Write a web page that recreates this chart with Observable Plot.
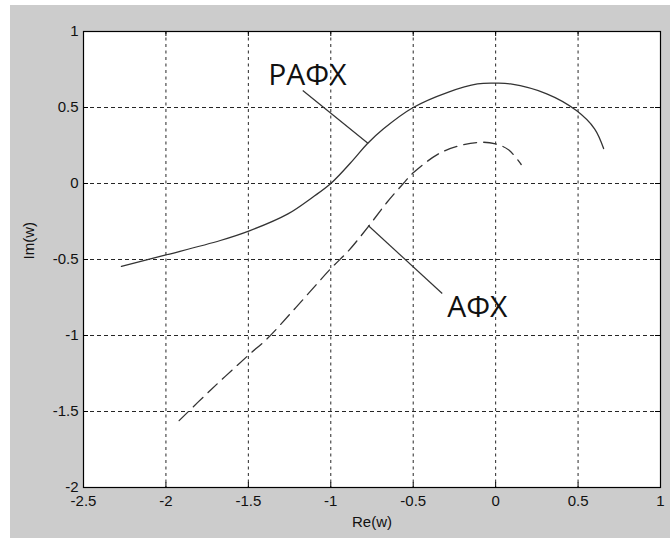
<!DOCTYPE html>
<html>
<head>
<meta charset="utf-8">
<script src="https://cdn.jsdelivr.net/npm/d3@7"></script>
<script src="https://cdn.jsdelivr.net/npm/@observablehq/plot@0.6"></script>
<style>
  html, body { margin: 0; padding: 0; background: #ffffff; }
  #chart { position: absolute; left: 10px; top: 5px; }
  #chart svg { display: block; background: #cccccc; }
</style>
</head>
<body>
<div id="chart"></div>
<script>
// Frequency response on the complex plane: Re(w) vs Im(w)

// РАФХ (solid curve)
const rafhRe = [-2.27, -2.0, -1.67, -1.49, -1.26, -1.11, -1.0, -0.86, -0.78, -0.68, -0.5, -0.29, -0.11, 0.0, 0.09, 0.31, 0.49, 0.6, 0.655];
const rafhIm = [-0.545, -0.47, -0.375, -0.31, -0.2, -0.09, 0.0, 0.16, 0.26, 0.36, 0.5, 0.6, 0.655, 0.66, 0.655, 0.59, 0.48, 0.36, 0.23];

// АФХ (dashed curve)
const afhRe = [-1.92, -1.73, -1.5, -1.385, -1.215, -1.0, -0.89, -0.77, -0.66, -0.56, -0.5, -0.32, -0.11, 0.0, 0.08, 0.155];
const afhIm = [-1.56, -1.36, -1.13, -1.02, -0.82, -0.56, -0.44, -0.28, -0.125, 0.0, 0.07, 0.21, 0.27, 0.26, 0.22, 0.125];

// Axis ticks
const xTicks = [-2.5, -2, -1.5, -1, -0.5, 0, 0.5, 1];
const yTicks = [-2, -1.5, -1, -0.5, 0, 0.5, 1];
const xGrid = [-2, -1.5, -1, -0.5, 0, 0.5];
const yGrid = [-1.5, -1, -0.5, 0, 0.5];

// Callout labels and their leader lines
const calloutText = ["РАФХ", "АФХ"];
const calloutRe = [-1.379, -0.294];
const calloutIm = [0.71, -0.816];
const leaderFromRe = [-1.17, -0.773];
const leaderFromIm = [0.612, -0.276];
const leaderToRe = [-0.773, -0.324];
const leaderToIm = [0.263, -0.724];

const rafh = rafhRe.map((re, i) => ({re, im: rafhIm[i]}));
const afh = afhRe.map((re, i) => ({re, im: afhIm[i]}));
const callouts = calloutText.map((text, i) => ({text, re: calloutRe[i], im: calloutIm[i]}));
const leaders = leaderFromRe.map((x1, i) => ({x1, y1: leaderFromIm[i], x2: leaderToRe[i], y2: leaderToIm[i]}));

const W = 660, H = 533;
const mL = 73, mR = 10, mT = 26, mB = 51;
const innerW = W - mL - mR, innerH = H - mT - mB;
const tickLen = 5;
const ink = "#333333";

const chart = Plot.plot({
  width: W,
  height: H,
  marginLeft: mL,
  marginRight: mR,
  marginTop: mT,
  marginBottom: mB,
  style: {fontFamily: "'Liberation Sans', Arial, sans-serif", fontSize: "15px", color: "#111", background: "#cccccc"},
  x: {domain: [-2.5, 1]},
  y: {domain: [-2, 1]},
  marks: [
    Plot.frame({fill: "white", stroke: "none"}),
    // dotted grid
    Plot.ruleX(xGrid, {x: d => d, stroke: "#000", strokeOpacity: 0.85, strokeDasharray: "3,3.5"}),
    Plot.ruleY(yGrid, {y: d => d, stroke: "#000", strokeOpacity: 0.85, strokeDasharray: "4,3"}),
    // inward tick marks on all four sides
    Plot.tickX(xTicks, {x: d => d, insetTop: innerH - tickLen, stroke: "#000"}),
    Plot.tickX(xTicks, {x: d => d, insetBottom: innerH - tickLen, stroke: "#000"}),
    Plot.tickY(yTicks, {y: d => d, insetRight: innerW - tickLen, stroke: "#000"}),
    Plot.tickY(yTicks, {y: d => d, insetLeft: innerW - tickLen, stroke: "#000"}),
    // curves
    Plot.line(rafh, {x: "re", y: "im", curve: "catmull-rom", stroke: ink, strokeWidth: 1.3}),
    Plot.line(afh, {x: "re", y: "im", curve: "catmull-rom", stroke: ink, strokeWidth: 1.3, strokeDasharray: "13,7"}),
    // callouts
    Plot.link(leaders, {x1: "x1", y1: "y1", x2: "x2", y2: "y2", stroke: ink, strokeWidth: 1.2}),
    Plot.text(callouts, {x: "re", y: "im", text: "text", textAnchor: "start", lineAnchor: "middle",
      fontSize: 30, fontFamily: "'Open Sans', sans-serif", fill: "#111"}),
    Plot.frame({stroke: "#000", strokeWidth: 1.2}),
    // axes
    Plot.axisX(xTicks, {tickSize: 0, tickPadding: 8, label: null, tickFormat: d => String(d)}),
    Plot.axisY(yTicks, {tickSize: 0, tickPadding: 5, label: null, tickFormat: d => String(d)}),
    Plot.text(["Re(w)"], {frameAnchor: "bottom", dy: 35, lineAnchor: "middle", text: d => d, fontSize: 15}),
    Plot.text(["Im(w)"], {frameAnchor: "left", dx: -54, rotate: -90, lineAnchor: "middle", text: d => d, fontSize: 15})
  ]
});

document.getElementById("chart").appendChild(chart);
</script>
</body>
</html>
